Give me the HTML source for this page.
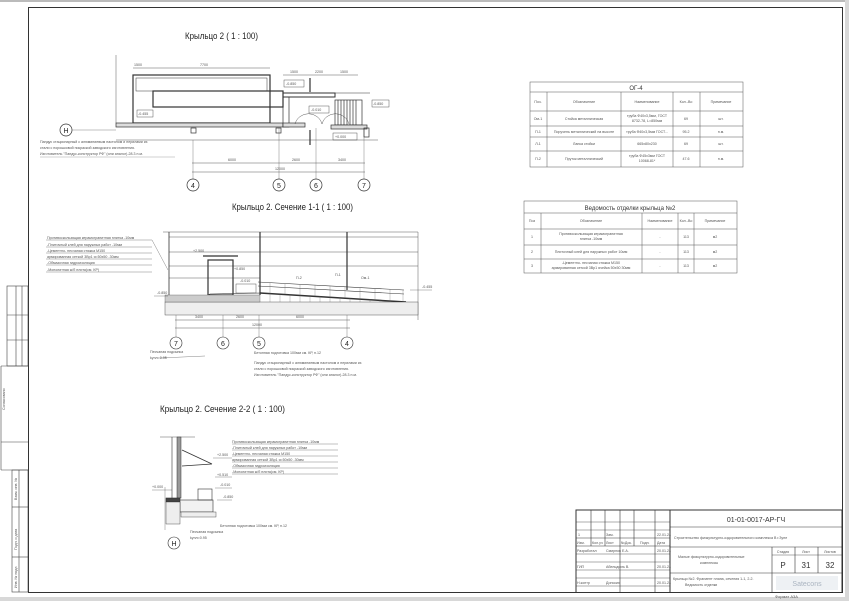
<!DOCTYPE html>
<html><head><meta charset="utf-8"><style>
html,body{margin:0;padding:0;background:#fff}
svg{display:block}
text{font-family:"Liberation Sans","DejaVu Sans",sans-serif;fill:#333}
.t{font-size:3.6px;fill:#555}
.h{font-size:9.5px;fill:#222}
</style></head><body>
<svg width="849" height="601" viewBox="0 0 849 601" xmlns="http://www.w3.org/2000/svg">
<rect x="0" y="0" width="849" height="601" fill="#fff"/>
<rect x="0" y="0" width="849" height="2" fill="#bbb"/>
<rect x="845" y="0" width="4" height="601" fill="#d8d8d8"/>
<rect x="0" y="597" width="849" height="4" fill="#d8d8d8"/>
<rect x="28.5" y="7.5" width="814" height="585" fill="none" stroke="#333" stroke-width="1"/>
<g stroke="#444" stroke-width="0.6" fill="none">
<rect x="7" y="286" width="21" height="80"/>
<line x1="16" y1="286" x2="16" y2="366"/><line x1="22" y1="286" x2="22" y2="366"/>
<line x1="7" y1="315" x2="28" y2="315"/><line x1="7" y1="340" x2="28" y2="340"/>
<line x1="1" y1="366" x2="1" y2="470"/>
<rect x="12" y="470" width="16" height="122"/>
<line x1="19" y1="470" x2="19" y2="592"/>
<line x1="12" y1="507" x2="28" y2="507"/><line x1="12" y1="557" x2="28" y2="557"/>
<line x1="1" y1="366" x2="28" y2="366"/><line x1="1" y1="442" x2="28" y2="442"/><line x1="1" y1="470" x2="28" y2="470"/>
</g>
<text class="t" transform="translate(5,410) rotate(-90)">Согласовано</text>
<text class="t" transform="translate(17,500) rotate(-90)">Взам. инв. №</text>
<text class="t" transform="translate(17,550) rotate(-90)">Подп. и дата</text>
<text class="t" transform="translate(17,588) rotate(-90)">Инв. № подл.</text>

<text class="h" x="185" y="39" textLength="73" lengthAdjust="spacingAndGlyphs">Крыльцо 2 ( 1 : 100)</text>
<g stroke="#333" fill="none" stroke-width="0.7">
<rect x="133" y="75" width="137" height="48" stroke-width="1.2"/>
<rect x="136" y="78" width="131" height="13" stroke-width="0.5"/>
<rect x="153" y="91" width="130" height="16" stroke-width="1.2"/>
<rect x="116" y="123" width="167" height="4" fill="#ddd"/>
<line x1="283" y1="93" x2="370" y2="93" stroke-width="0.5"/>
<rect x="283" y="93" width="52" height="4" stroke-width="1"/>
<rect x="283" y="97" width="6" height="30"/>
<rect x="283" y="123" width="22" height="4" fill="#ddd"/>
<rect x="335" y="100" width="27" height="25"/>
<line x1="338" y1="100" x2="338" y2="125"/><line x1="341" y1="100" x2="341" y2="125"/><line x1="344" y1="100" x2="344" y2="125"/><line x1="347" y1="100" x2="347" y2="125"/><line x1="350" y1="100" x2="350" y2="125"/><line x1="353" y1="100" x2="353" y2="125"/><line x1="356" y1="100" x2="356" y2="125"/>
<rect x="331" y="125" width="36" height="4" fill="#ddd"/>
<path d="M295 124 A14 14 0 0 1 322 124 M322 124 A14 14 0 0 1 349 124" stroke-width="0.4"/>
<rect x="191" y="128" width="5" height="5"/><rect x="276" y="128" width="5" height="5"/><rect x="364" y="128" width="5" height="9"/>
<line x1="116" y1="140" x2="378" y2="140" stroke-width="0.4"/>
<line x1="116" y1="55" x2="116" y2="123" stroke-width="0.4"/>
<line x1="133" y1="68" x2="270" y2="68" stroke-width="0.4"/>
<line x1="283" y1="75" x2="358" y2="75" stroke-width="0.4"/>
<line x1="192" y1="163" x2="365" y2="163" stroke-width="0.4"/>
<line x1="192" y1="172" x2="365" y2="172" stroke-width="0.4"/>
<line x1="193" y1="140" x2="193" y2="179" stroke-width="0.3"/><line x1="279" y1="128" x2="279" y2="179" stroke-width="0.3"/><line x1="316" y1="128" x2="316" y2="179" stroke-width="0.3"/><line x1="364" y1="128" x2="364" y2="179" stroke-width="0.3"/>
<circle cx="193" cy="185" r="6"/><circle cx="279" cy="185" r="6"/><circle cx="316" cy="185" r="6"/><circle cx="364" cy="185" r="6"/>
<circle cx="66" cy="130" r="6"/>
<line x1="72" y1="130" x2="116" y2="130" stroke-width="0.3"/>
<rect x="137" y="110" width="16" height="7" stroke-width="0.4"/>
<rect x="284" y="80" width="20" height="7" stroke-width="0.4"/>
<rect x="309" y="106" width="20" height="7" stroke-width="0.4"/>
<rect x="333" y="133" width="24" height="7" stroke-width="0.4"/>
<rect x="372" y="100" width="17" height="7" stroke-width="0.4"/>
<line x1="310" y1="78" x2="310" y2="92" stroke-width="1.2"/><line x1="310" y1="130" x2="310" y2="145" stroke-width="1.2"/>
</g>
<text class="h" x="193" y="188" text-anchor="middle" style="font-size:7px">4</text>
<text class="h" x="279" y="188" text-anchor="middle" style="font-size:7px">5</text>
<text class="h" x="316" y="188" text-anchor="middle" style="font-size:7px">6</text>
<text class="h" x="364" y="188" text-anchor="middle" style="font-size:7px">7</text>
<text class="h" x="66" y="133" text-anchor="middle" style="font-size:7px">Н</text>
<text class="t" x="134" y="66">1500</text><text class="t" x="200" y="66">7700</text>
<text class="t" x="290" y="73">1500</text><text class="t" x="315" y="73">2200</text><text class="t" x="340" y="73">1500</text>
<text class="t" x="228" y="161">6000</text><text class="t" x="292" y="161">2600</text><text class="t" x="338" y="161">3400</text><text class="t" x="275" y="170">12000</text>
<text class="t" x="138" y="115">-0.455</text><text class="t" x="286" y="85">-0.850</text><text class="t" x="311" y="111">-0.010</text><text class="t" x="335" y="138">+0.000</text><text class="t" x="373" y="105">-0.850</text>
<text class="t" x="40" y="143">Пандус стационарный с алюминиевым настилом и перилами из</text>
<text class="t" x="40" y="149">стали с порошковой покраской заводского изготовления.</text>
<text class="t" x="40" y="155">Изготовитель "Пандус-конструктор РФ" (или аналог)-28.3 п.м.</text>
<line x1="40" y1="157" x2="175" y2="157" stroke="#666" stroke-width="0.3"/>

<g stroke="#555" stroke-width="0.5" fill="none">
<rect x="530" y="82" width="213" height="85"/>
<line x1="530" y1="92" x2="743" y2="92"/><line x1="530" y1="111" x2="743" y2="111"/><line x1="530" y1="126" x2="743" y2="126"/><line x1="530" y1="137" x2="743" y2="137"/><line x1="530" y1="151" x2="743" y2="151"/>
<line x1="547" y1="92" x2="547" y2="167"/><line x1="621" y1="92" x2="621" y2="167"/><line x1="673" y1="92" x2="673" y2="167"/><line x1="700" y1="92" x2="700" y2="167"/>
</g>
<text x="636" y="90" text-anchor="middle" style="font-size:6px">ОГ-4</text>
<g text-anchor="middle">
<text class="t" x="538" y="103">Поз.</text><text class="t" x="584" y="103">Обозначение</text><text class="t" x="647" y="103">Наименование</text><text class="t" x="686" y="103">Кол.-Во</text><text class="t" x="721" y="103">Примечание</text>
<text class="t" x="538" y="120">Ом-1</text><text class="t" x="584" y="120">Стойка металлическая</text><text class="t" x="647" y="117">труба Ф40х3,5мм, ГОСТ</text><text class="t" x="647" y="122">8732-78, L=850мм</text><text class="t" x="686" y="120">69</text><text class="t" x="721" y="120">шт.</text>
<text class="t" x="538" y="133">П-1</text><text class="t" x="584" y="133">Поручень металлический на высоте</text><text class="t" x="647" y="133">труба Ф40х3,5мм ГОСТ...</text><text class="t" x="686" y="133">95.2</text><text class="t" x="721" y="133">п.м.</text>
<text class="t" x="538" y="145">Л-1</text><text class="t" x="584" y="145">Лапка стойки</text><text class="t" x="647" y="145">665х80х230</text><text class="t" x="686" y="145">69</text><text class="t" x="721" y="145">шт.</text>
<text class="t" x="538" y="160">П-2</text><text class="t" x="584" y="160">Пруток металлический</text><text class="t" x="647" y="157">труба Ф45х3мм ГОСТ</text><text class="t" x="647" y="162">10068-81*</text><text class="t" x="686" y="160">47.6</text><text class="t" x="721" y="160">п.м.</text>
</g>

<g stroke="#555" stroke-width="0.5" fill="none">
<rect x="524" y="201" width="213" height="72"/>
<line x1="524" y1="213" x2="737" y2="213"/><line x1="524" y1="229" x2="737" y2="229"/><line x1="524" y1="245" x2="737" y2="245"/><line x1="524" y1="259" x2="737" y2="259"/>
<line x1="541" y1="213" x2="541" y2="273"/><line x1="642" y1="213" x2="642" y2="273"/><line x1="678" y1="213" x2="678" y2="273"/><line x1="694" y1="213" x2="694" y2="273"/>
</g>
<text x="630" y="210" text-anchor="middle" style="font-size:6px">Ведомость отделки крыльца №2</text>
<g text-anchor="middle">
<text class="t" x="532" y="222">Поз</text><text class="t" x="591" y="222">Обозначение</text><text class="t" x="660" y="222">Наименование</text><text class="t" x="686" y="222">Кол.-Во</text><text class="t" x="715" y="222">Примечание</text>
<text class="t" x="532" y="238">1</text><text class="t" x="591" y="235">Противоскользящая керамогранитная</text><text class="t" x="591" y="240">плитка -10мм</text><text class="t" x="660" y="238">-</text><text class="t" x="686" y="238">113</text><text class="t" x="715" y="238">м2</text>
<text class="t" x="532" y="253">2</text><text class="t" x="591" y="253">Плиточный клей для наружных работ 10мм</text><text class="t" x="660" y="253">-</text><text class="t" x="686" y="253">113</text><text class="t" x="715" y="253">м2</text>
<text class="t" x="532" y="267">3</text><text class="t" x="591" y="264">-Цементно- песчаная стяжка М150</text><text class="t" x="591" y="269">армированная сеткой 3Вр1 ячейка 50х50 30мм</text><text class="t" x="660" y="267">-</text><text class="t" x="686" y="267">113</text><text class="t" x="715" y="267">м2</text>
</g>

<text class="h" x="232" y="210" textLength="121" lengthAdjust="spacingAndGlyphs">Крыльцо 2. Сечение 1-1 ( 1 : 100)</text>
<g stroke="#333" fill="none" stroke-width="0.6">
<line x1="163" y1="232" x2="418" y2="232" stroke-width="0.4"/>
<line x1="169" y1="232" x2="169" y2="295" stroke-width="0.8"/>
<line x1="260" y1="232" x2="260" y2="295" stroke-width="1.2"/>
<line x1="347" y1="232" x2="347" y2="290" stroke-width="1.2"/>
<line x1="418" y1="232" x2="418" y2="320" stroke-width="0.4"/>
<line x1="169" y1="237" x2="418" y2="237" stroke-width="0.4"/>
<line x1="169" y1="252" x2="418" y2="252" stroke-width="0.4"/>
<line x1="169" y1="266" x2="418" y2="266" stroke-width="0.4"/>
<line x1="169" y1="278" x2="260" y2="278" stroke-width="0.4"/>
<rect x="208" y="260" width="25" height="35" stroke-width="1.2"/>
<line x1="203" y1="256" x2="238" y2="256" stroke-width="1.2"/>
<rect x="236" y="284" width="20" height="9" stroke-width="0.4"/>
<path d="M182 310 L188 310 L188 306 L193 306 L193 302 L198 302 L198 298 L203 298 L203 295" stroke-width="0.7"/>
<path d="M182 310 L210 294 L260 293 L406 302" stroke-width="0.6"/>
<path d="M260 293 L406 302" stroke-width="1.5"/>
<path d="M258 282 L404 290 M258 286 L404 294" stroke-width="0.6"/>
<rect x="165" y="302" width="253" height="13" fill="#eee" stroke-width="0.4"/>
<rect x="165" y="295" width="95" height="7" fill="#ccc" stroke-width="0.3"/>
<line x1="175" y1="320" x2="350" y2="320" stroke-width="0.4"/>
<line x1="175" y1="328" x2="350" y2="328" stroke-width="0.4"/>
<line x1="176" y1="315" x2="176" y2="337" stroke-width="0.3"/><line x1="223" y1="315" x2="223" y2="337" stroke-width="0.3"/><line x1="259" y1="315" x2="259" y2="337" stroke-width="0.3"/><line x1="347" y1="315" x2="347" y2="337" stroke-width="0.3"/>
<circle cx="176" cy="343" r="6"/><circle cx="223" cy="343" r="6"/><circle cx="259" cy="343" r="6"/><circle cx="347" cy="343" r="6"/>
<line x1="154" y1="296" x2="168" y2="296" stroke-width="0.3"/>
<line x1="410" y1="290" x2="432" y2="290" stroke-width="0.3"/>
<line x1="46" y1="240" x2="152" y2="240" stroke-width="0.3"/><line x1="46" y1="247" x2="152" y2="247" stroke-width="0.3"/><line x1="46" y1="253" x2="152" y2="253" stroke-width="0.3"/><line x1="46" y1="259" x2="152" y2="259" stroke-width="0.3"/><line x1="46" y1="265" x2="152" y2="265" stroke-width="0.3"/><line x1="46" y1="272" x2="152" y2="272" stroke-width="0.3"/>
<line x1="152" y1="240" x2="168" y2="270" stroke-width="0.3"/>
<line x1="205" y1="356" x2="160" y2="358" stroke-width="0.3"/>
</g>
<g stroke="#666" stroke-width="0.3">
<line x1="270" y1="293" x2="270" y2="302"/><line x1="280" y1="294" x2="280" y2="302"/><line x1="290" y1="294" x2="290" y2="302"/><line x1="300" y1="295" x2="300" y2="302"/><line x1="310" y1="296" x2="310" y2="302"/><line x1="320" y1="296" x2="320" y2="302"/><line x1="330" y1="297" x2="330" y2="302"/><line x1="340" y1="297" x2="340" y2="302"/><line x1="350" y1="298" x2="350" y2="302"/><line x1="360" y1="299" x2="360" y2="302"/><line x1="370" y1="299" x2="370" y2="302"/><line x1="380" y1="300" x2="380" y2="302"/><line x1="390" y1="301" x2="390" y2="302"/>
<line x1="270" y1="283" x2="270" y2="293"/><line x1="285" y1="284" x2="285" y2="294"/><line x1="300" y1="285" x2="300" y2="295"/><line x1="315" y1="285" x2="315" y2="296"/><line x1="330" y1="286" x2="330" y2="297"/><line x1="345" y1="287" x2="345" y2="298"/><line x1="360" y1="288" x2="360" y2="299"/><line x1="375" y1="289" x2="375" y2="300"/><line x1="390" y1="289" x2="390" y2="301"/><line x1="403" y1="290" x2="403" y2="302"/>
</g>
<text class="h" x="176" y="346" text-anchor="middle" style="font-size:7px">7</text>
<text class="h" x="223" y="346" text-anchor="middle" style="font-size:7px">6</text>
<text class="h" x="259" y="346" text-anchor="middle" style="font-size:7px">5</text>
<text class="h" x="347" y="346" text-anchor="middle" style="font-size:7px">4</text>
<text class="t" x="195" y="318">3400</text><text class="t" x="236" y="318">2600</text><text class="t" x="296" y="318">6000</text><text class="t" x="252" y="326">12000</text>
<text class="t" x="157" y="294">-0.850</text><text class="t" x="422" y="288">-0.455</text><text class="t" x="193" y="252">+2.500</text><text class="t" x="234" y="270">+0.850</text><text class="t" x="240" y="282">-0.010</text>
<text class="t" x="296" y="279">П-2</text><text class="t" x="335" y="276">П-1</text><text class="t" x="361" y="279">Ом-1</text>
<text class="t" x="47" y="239">Противоскользящая керамогранитная плитка -10мм</text>
<text class="t" x="47" y="246">-Плиточный клей для наружных работ        -10мм</text>
<text class="t" x="47" y="252">-Цементно- песчаная стяжка М150</text>
<text class="t" x="47" y="258">армированная сеткой 3Вр1 я=50х50         -30мм</text>
<text class="t" x="47" y="264">-Обмазочная гидроизоляция</text>
<text class="t" x="47" y="271">-Монолитная ж/б плита(см. КР)</text>
<text class="t" x="150" y="353">Песчаная подсыпка</text><text class="t" x="150" y="359">kупл=0.95</text>
<text class="t" x="254" y="354">Бетонная подготовка 100мм см. КР, п.12</text>
<text class="t" x="254" y="364">Пандус стационарный с алюминиевым настилом и перилами из</text>
<text class="t" x="254" y="370">стали с порошковой покраской заводского изготовления.</text>
<text class="t" x="254" y="376">Изготовитель "Пандус-конструктор РФ" (или аналог)-28.3 п.м.</text>

<text class="h" x="160" y="412" textLength="125" lengthAdjust="spacingAndGlyphs">Крыльцо 2. Сечение 2-2 ( 1 : 100)</text>
<g stroke="#333" fill="none" stroke-width="0.6">
<line x1="160" y1="437" x2="195" y2="437" stroke-width="0.4"/>
<line x1="172" y1="437" x2="172" y2="498"/>
<rect x="177" y="437" width="4" height="61" fill="#999" stroke-width="0.5"/>
<path d="M182 450 L212 464 M182 466 L212 464" stroke-width="0.8"/>
<rect x="166" y="498" width="14" height="4" fill="#444"/>
<rect x="180" y="500" width="33" height="12" stroke-width="0.6" fill="#f2f2f2"/>
<rect x="166" y="502" width="14" height="22" fill="#eee" stroke-width="0.4"/>
<rect x="181" y="512" width="35" height="5" fill="#eee" stroke-width="0.4"/>
<rect x="198" y="489" width="14" height="11" stroke-width="0.6"/>
<line x1="165" y1="487" x2="165" y2="530" stroke-width="0.3"/>
<circle cx="174" cy="543" r="6"/>
<line x1="152" y1="490" x2="172" y2="490" stroke-width="0.3"/>
<line x1="215" y1="477" x2="232" y2="477" stroke-width="0.3"/>
<line x1="215" y1="488" x2="232" y2="488" stroke-width="0.3"/>
<line x1="217" y1="500" x2="232" y2="500" stroke-width="0.3"/>
<line x1="213" y1="458" x2="232" y2="458" stroke-width="0.3"/>
<line x1="232" y1="444" x2="338" y2="444" stroke-width="0.3"/><line x1="232" y1="450" x2="338" y2="450" stroke-width="0.3"/><line x1="232" y1="456" x2="338" y2="456" stroke-width="0.3"/><line x1="232" y1="462" x2="338" y2="462" stroke-width="0.3"/><line x1="232" y1="468" x2="338" y2="468" stroke-width="0.3"/><line x1="232" y1="474" x2="338" y2="474" stroke-width="0.3"/>
</g>
<text class="h" x="174" y="546" text-anchor="middle" style="font-size:7px">Н</text>
<text class="t" x="217" y="456">+2.500</text><text class="t" x="217" y="476">+0.510</text><text class="t" x="220" y="486">-0.010</text><text class="t" x="223" y="498">-0.850</text><text class="t" x="152" y="488">+0.000</text>
<text class="t" x="232" y="443">Противоскользящая керамогранитная плитка -10мм</text>
<text class="t" x="232" y="449">-Плиточный клей для наружных работ       -10мм</text>
<text class="t" x="232" y="455">-Цементно- песчаная стяжка М150</text>
<text class="t" x="232" y="461">армированная сеткой 3Вр1 я=50х50         -30мм</text>
<text class="t" x="232" y="467">-Обмазочная гидроизоляция</text>
<text class="t" x="232" y="473">-Монолитная ж/б плита(см. КР)</text>
<text class="t" x="220" y="527">Бетонная подготовка 100мм см. КР, п.12</text>
<text class="t" x="190" y="533">Песчаная подсыпка</text><text class="t" x="190" y="539">kупл=0.95</text>

<g stroke="#333" fill="none" stroke-width="0.6">
<rect x="576" y="510" width="266" height="82.5" stroke-width="1"/>
<line x1="670" y1="510" x2="670" y2="593" stroke-width="1"/>
<line x1="591" y1="510" x2="591" y2="546"/><line x1="605" y1="510" x2="605" y2="546"/><line x1="620" y1="510" x2="620" y2="593"/><line x1="634" y1="510" x2="634" y2="546"/><line x1="655" y1="510" x2="655" y2="593"/>
<line x1="576" y1="522" x2="670" y2="522" stroke-width="0.4"/><line x1="576" y1="530" x2="670" y2="530" stroke-width="0.4"/><line x1="576" y1="538" x2="670" y2="538"/><line x1="576" y1="546" x2="670" y2="546"/><line x1="576" y1="554" x2="670" y2="554" stroke-width="0.4"/><line x1="576" y1="562" x2="670" y2="562" stroke-width="0.4"/><line x1="576" y1="570" x2="670" y2="570" stroke-width="0.4"/><line x1="576" y1="578" x2="670" y2="578" stroke-width="0.4"/><line x1="576" y1="586" x2="670" y2="586" stroke-width="0.4"/>
<line x1="670" y1="527" x2="842" y2="527"/><line x1="670" y1="547" x2="842" y2="547"/><line x1="670" y1="573" x2="842" y2="573"/>
<line x1="772" y1="547" x2="772" y2="593"/><line x1="795" y1="547" x2="795" y2="573"/><line x1="818" y1="547" x2="818" y2="573"/>
<line x1="772" y1="555" x2="842" y2="555" stroke-width="0.4"/>
</g>
<rect x="776" y="576" width="62" height="14" fill="#eef1f4"/>
<text x="807" y="586" text-anchor="middle" style="font-size:7px;fill:#aab4c0">Satecons</text>
<text x="756" y="522" text-anchor="middle" style="font-size:7px">01-01-0017-АР-ГЧ</text>
<text class="t" x="674" y="539">Строительство физкультурно-оздоровительного комплекса В г.Зуне</text>
<text class="t" x="678" y="558">Малые физкультурно-оздоровительные</text><text class="t" x="700" y="564">комплексы</text>
<text class="t" x="673" y="580">Крыльцо №2. Фрагмент плана, сечения 1-1, 2-2.</text><text class="t" x="685" y="586">Ведомость отделки</text>
<g text-anchor="middle"><text class="t" x="783" y="553">Стадия</text><text class="t" x="806" y="553">Лист</text><text class="t" x="830" y="553">Листов</text></g>
<text x="783" y="568" text-anchor="middle" style="font-size:8px">Р</text><text x="806" y="568" text-anchor="middle" style="font-size:8px">31</text><text x="830" y="568" text-anchor="middle" style="font-size:8px">32</text>
<text class="t" x="578" y="536">1</text><text class="t" x="606" y="536">Зам.</text><text class="t" x="657" y="536">22.01.24</text>
<text class="t" x="577" y="544">Изм.</text><text class="t" x="592" y="544">Кол.уч</text><text class="t" x="606" y="544">Лист</text><text class="t" x="621" y="544">№Док.</text><text class="t" x="640" y="544">Подп.</text><text class="t" x="657" y="544">Дата</text>
<text class="t" x="577" y="552">Разработал</text><text class="t" x="606" y="552">Смирнов Е.А.</text><text class="t" x="657" y="552">20.01.24</text>
<text class="t" x="577" y="568">ГИП</text><text class="t" x="606" y="568">Абельдыль В.</text><text class="t" x="657" y="568">20.01.24</text>
<text class="t" x="577" y="584">Н.контр</text><text class="t" x="606" y="584">Донских</text><text class="t" x="657" y="584">20.01.24</text>
<text class="t" x="775" y="598" style="font-size:4px">Формат А3А</text>
</svg>
</body></html>
